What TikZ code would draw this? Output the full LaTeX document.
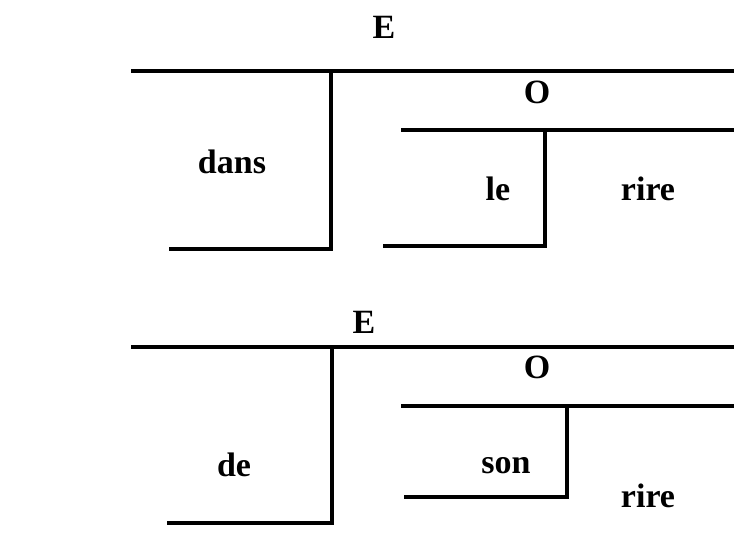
\documentclass[tikz,border=0pt]{standalone}
\usepackage{fontspec}
\setmainfont{Liberation Serif}
\begin{document}
\begin{tikzpicture}[x=1pt,y=-1pt,
  bar/.style={line width=4.5pt,line cap=butt,line join=miter},
  word/.style={font=\fontsize{34}{38}\selectfont\bfseries,inner sep=0pt,anchor=base}]
\useasboundingbox (0,0) rectangle (734,541);

% ---- upper tree: "dans le rire"
\coordinate (a1) at (131,71);   \coordinate (a2) at (734,71);
\coordinate (a3) at (331,71);   \coordinate (a4) at (331,249);
\coordinate (a5) at (169,249);
\coordinate (b1) at (401,130);  \coordinate (b2) at (734,130);
\coordinate (b3) at (545,130);  \coordinate (b4) at (545,246);
\coordinate (b5) at (383,246);
\draw[bar] (a1) -- (a2);
\draw[bar] (a3) -- (a4) -- (a5);
\draw[bar] (b1) -- (b2);
\draw[bar] (b3) -- (b4) -- (b5);
\node[word] (e1) at (384,38) {E};
\node[word] (o1) at (537,103) {O};
\node[word] (dans) at (232,173) {dans};
\node[word] (le) at (498,200) {le};
\node[word] (rire1) at (648,200) {rire};

% ---- lower tree: "de son rire"
\coordinate (c1) at (131,347);  \coordinate (c2) at (734,347);
\coordinate (c3) at (332,347);  \coordinate (c4) at (332,523);
\coordinate (c5) at (167,523);
\coordinate (d1) at (401,406);  \coordinate (d2) at (734,406);
\coordinate (d3) at (567,406);  \coordinate (d4) at (567,497);
\coordinate (d5) at (404,497);
\draw[bar] (c1) -- (c2);
\draw[bar] (c3) -- (c4) -- (c5);
\draw[bar] (d1) -- (d2);
\draw[bar] (d3) -- (d4) -- (d5);
\node[word] (e2) at (364,333) {E};
\node[word] (o2) at (537,378) {O};
\node[word] (de) at (234,476) {de};
\node[word] (son) at (506,473) {son};
\node[word] (rire2) at (648,507) {rire};
\end{tikzpicture}
\end{document}
